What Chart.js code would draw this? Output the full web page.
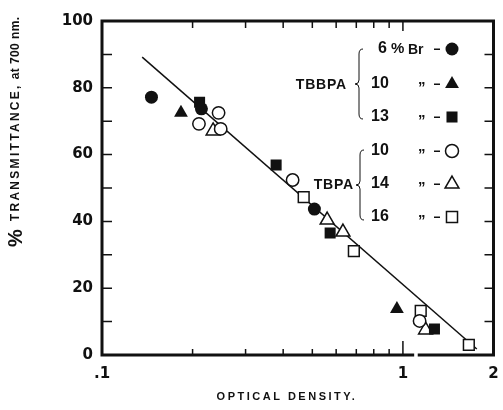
<!DOCTYPE html>
<html>
<head>
<meta charset="utf-8">
<script src="https://cdn.jsdelivr.net/npm/chart.js@4/dist/chart.umd.min.js"></script>
<style>
  html, body { margin: 0; padding: 0; background: #fff; }
  #wrap { width: 503px; height: 410px; }
</style>
</head>
<body>
<div id="wrap"><canvas id="chart" width="503" height="410"></canvas></div>
<script>
// values (optical density vs % transmittance)
const br6X = [0.146, 0.214, 0.508];
const br6Y = [77.2, 73.7, 43.7];
const tbbpa10X = [0.183, 0.955];
const tbbpa10Y = [72.5, 13.8];
const tbbpa13X = [0.211, 0.379, 0.573, 1.273];
const tbbpa13Y = [75.7, 56.9, 36.5, 7.8];
const tbpa10X = [0.210, 0.244, 0.248, 0.430, 1.136];
const tbpa10Y = [69.2, 72.5, 67.7, 52.4, 10.2];
const tbpa14X = [0.234, 0.560, 0.632, 1.189];
const tbpa14Y = [67.1, 40.4, 36.8, 7.5];
const tbpa16X = [0.468, 0.687, 1.146, 1.656];
const tbpa16Y = [47.3, 31.1, 13.2, 3.0];
const fitX = [0.136, 1.76];
const fitY = [89.2, 1.8];

const xTickValues = [0.2, 0.3, 0.4, 0.5, 0.6, 0.7, 0.8, 0.9, 1];
const xLabelValues = [0.1, 1, 2];
const xLabels = ['.1', '1', '2'];
const yMinorTicks = [10, 20, 30, 40, 50, 60, 70, 80, 90];

const INK = '#111';
const FONT = '"Liberation Sans", Arial, sans-serif';
const WIDE = '"DejaVu Sans", Verdana, sans-serif';

function pts(xs, ys) {
    return xs.map((x, i) => ({ x: x, y: ys[i] }));
}

function series(label, xs, ys, style, filled, r) {
    return {
        label: label,
        data: pts(xs, ys),
        pointStyle: style,
        pointRadius: r,
        pointHoverRadius: r,
        pointBackgroundColor: filled ? INK : '#fff',
        pointBorderColor: INK,
        pointBorderWidth: filled ? 0 : 1.5,
        showLine: false
    };
}

// same geometry as Chart.js point styles, for the legend keys
function marker(ctx, style, filled, x, y, r) {
    ctx.save();
    ctx.fillStyle = filled ? INK : '#fff';
    ctx.strokeStyle = INK;
    ctx.lineWidth = 1.5;
    ctx.beginPath();
    if (style === 'circle') {
        ctx.arc(x, y, r, 0, Math.PI * 2);
    } else if (style === 'triangle') {
        let a = 0;
        ctx.moveTo(x + Math.sin(a) * r, y - Math.cos(a) * r);
        a += Math.PI * 2 / 3;
        ctx.lineTo(x + Math.sin(a) * r, y - Math.cos(a) * r);
        a += Math.PI * 2 / 3;
        ctx.lineTo(x + Math.sin(a) * r, y - Math.cos(a) * r);
        ctx.closePath();
    } else {
        const s = Math.SQRT1_2 * r;
        ctx.rect(x - s, y - s, 2 * s, 2 * s);
    }
    ctx.fill();
    if (!filled) ctx.stroke();
    ctx.restore();
}

function brace(ctx, x, top, bottom) {
    const mid = (top + bottom) / 2;
    ctx.save();
    ctx.strokeStyle = INK;
    ctx.lineWidth = 1;
    ctx.beginPath();
    ctx.moveTo(x + 4, top);
    ctx.quadraticCurveTo(x, top, x, top + 5);
    ctx.lineTo(x, mid - 4);
    ctx.quadraticCurveTo(x, mid, x - 4, mid);
    ctx.quadraticCurveTo(x, mid, x, mid + 4);
    ctx.lineTo(x, bottom - 5);
    ctx.quadraticCurveTo(x, bottom, x + 4, bottom);
    ctx.stroke();
    ctx.restore();
}

const decorations = {
    id: 'decorations',
    afterDraw(chart) {
        const { ctx, chartArea: a, scales: { x, y } } = chart;
        ctx.save();
        ctx.strokeStyle = INK;

        // frame, with the small break in the bottom axis
        ctx.lineWidth = 3;
        ctx.beginPath();
        ctx.moveTo(a.left, a.top);
        ctx.lineTo(a.right, a.top);
        ctx.lineTo(a.right, a.bottom);
        ctx.lineTo(x.getPixelForValue(1.12), a.bottom);
        ctx.moveTo(x.getPixelForValue(1.09), a.bottom);
        ctx.lineTo(a.left, a.bottom);
        ctx.lineTo(a.left, a.top - 1.5);
        ctx.stroke();

        // inward ticks
        ctx.lineWidth = 1.5;
        ctx.beginPath();
        xTickValues.forEach(v => {
            const px = x.getPixelForValue(v);
            ctx.moveTo(px, a.top);
            ctx.lineTo(px, a.top + (v === 1 ? 10 : 7));
            ctx.moveTo(px, a.bottom);
            ctx.lineTo(px, a.bottom - (v === 1 ? 14 : 6));
        });
        yMinorTicks.forEach(v => {
            const py = y.getPixelForValue(v);
            ctx.moveTo(a.left, py);
            ctx.lineTo(a.left + 10, py);
            ctx.moveTo(a.right, py);
            ctx.lineTo(a.right - 9, py);
        });
        ctx.stroke();

        // x tick labels
        ctx.fillStyle = INK;
        ctx.font = 'bold 15px ' + WIDE;
        ctx.textAlign = 'center';
        ctx.textBaseline = 'middle';
        xLabelValues.forEach((v, i) => {
            ctx.fillText(xLabels[i], x.getPixelForValue(v), a.bottom + 19);
        });

        // x title
        ctx.font = 'bold 11px ' + FONT;
        ctx.letterSpacing = '2.5px';
        ctx.fillText('OPTICAL DENSITY.', 287, 397);

        // y title
        ctx.save();
        ctx.translate(16, 247);
        ctx.rotate(-Math.PI / 2);
        ctx.textAlign = 'left';
        ctx.letterSpacing = '0px';
        ctx.font = 'bold 20px ' + FONT;
        ctx.fillText('%', 0, 0);
        let off = ctx.measureText('%').width + 8;
        ctx.font = 'bold 12px ' + FONT;
        ctx.letterSpacing = '2.3px';
        ctx.fillText('TRANSMITTANCE,', off, 0);
        off += ctx.measureText('TRANSMITTANCE,').width + 4;
        ctx.letterSpacing = '0.4px';
        ctx.fillText('at 700 nm.', off, 0);
        ctx.restore();
        ctx.letterSpacing = '0px';

        // legend
        const rows = [49, 84, 117, 151, 184, 217];
        const nums = ['6', '10', '13', '10', '14', '16'];
        const keys = [
            ['circle', true], ['triangle', true], ['rect', true],
            ['circle', false], ['triangle', false], ['rect', false]
        ];
        const radii = { circle: 6.5, triangle: 8, rect: 7.8 };
        ctx.textAlign = 'left';
        rows.forEach((ry, i) => {
            ctx.font = 'bold 16px ' + FONT;
            ctx.fillText(nums[i], i === 0 ? 378 : 371, ry);
            if (i === 0) {
                ctx.font = 'bold 15px ' + FONT;
                ctx.fillText('%', 391, ry);
                ctx.font = 'bold 14px ' + FONT;
                ctx.fillText('Br', 408, ry + 1);
            } else {
                ctx.font = 'bold 15px ' + FONT;
                ctx.fillText('\u201D', 418, ry + 4);
            }
            ctx.fillRect(434, ry - 0.5, 6, 1.5);
            marker(ctx, keys[i][0], keys[i][1], 452, ry, radii[keys[i][0]]);
        });
        ctx.font = 'bold 14px ' + FONT;
        ctx.letterSpacing = '0.8px';
        ctx.textAlign = 'right';
        ctx.fillText('TBBPA', 347, 85);
        ctx.fillText('TBPA', 354, 185);
        ctx.letterSpacing = '0px';
        brace(ctx, 359, 49, 119);
        brace(ctx, 360, 150, 220);

        ctx.restore();
    }
};

const ctx = document.getElementById('chart').getContext('2d');
new Chart(ctx, {
    type: 'scatter',
    data: {
        datasets: [
            series('6 %Br', br6X, br6Y, 'circle', true, 6.5),
            series('TBBPA 10', tbbpa10X, tbbpa10Y, 'triangle', true, 8),
            series('TBBPA 13', tbbpa13X, tbbpa13Y, 'rect', true, 7.8),
            series('TBPA 10', tbpa10X, tbpa10Y, 'circle', false, 6.2),
            series('TBPA 14', tbpa14X, tbpa14Y, 'triangle', false, 8),
            series('TBPA 16', tbpa16X, tbpa16Y, 'rect', false, 7.6),
            {
                label: 'fit',
                data: pts(fitX, fitY),
                showLine: true,
                borderColor: INK,
                borderWidth: 1.5,
                pointRadius: 0,
                pointHoverRadius: 0
            }
        ]
    },
    options: {
        responsive: false,
        animation: false,
        events: [],
        layout: { padding: { top: 21, right: 3, left: 0, bottom: 0 } },
        plugins: {
            legend: { display: false },
            tooltip: { enabled: false }
        },
        scales: {
            x: {
                type: 'logarithmic',
                min: 0.1,
                max: 2,
                grid: { display: false },
                border: { display: false },
                ticks: { display: false },
                afterFit: (s) => { s.height = 55; }
            },
            y: {
                min: 0,
                max: 100,
                grid: { display: false, drawTicks: false },
                border: { display: false },
                ticks: {
                    stepSize: 20,
                    padding: 9,
                    color: INK,
                    font: { family: WIDE, size: 15, weight: 'bold' }
                },
                afterFit: (s) => { s.width = 102; }
            }
        }
    },
    plugins: [decorations]
});
</script>
</body>
</html>
